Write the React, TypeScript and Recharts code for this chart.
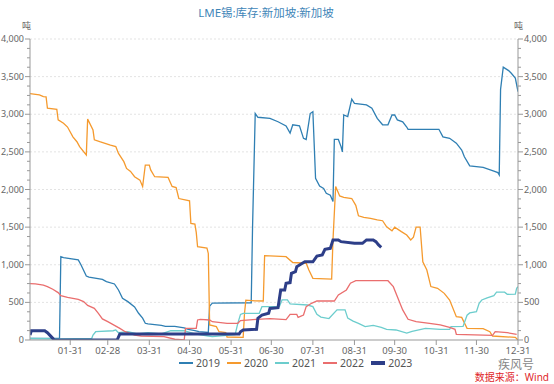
import React from "react";
import { LineChart, Line, XAxis, YAxis, ReferenceLine } from "recharts";

// x = day of year (0 = 01-01), y = tonnes
const TITLE = "LME锡:库存:新加坡:新加坡";
const UNIT = "吨";
const SOURCE = "数据来源：Wind";
const WATERMARK = "疾风号";

const TICK_DAYS = [30, 58, 89, 119, 150, 180, 211, 242, 272, 303, 333, 364];
const TICK_LABELS = ["01-31", "02-28", "03-31", "04-30", "05-31", "06-30", "07-31", "08-31", "09-30", "10-31", "11-30", "12-31"];
const Y_MAJOR = [0, 500, 1000, 1500, 2000, 2500, 3000, 3500, 4000];

const S2019: [number, number][] = [[0,20],[22,20],[23,1107],[25,1095],[36,1065],[38,1000],[42,850],[44,835],[54,805],[57,775],[63,745],[66,665],[69,555],[73,510],[78,440],[81,355],[84,290],[86,222],[88,215],[93,205],[98,195],[101,180],[108,180],[115,160],[118,140],[123,125],[126,110],[133,100],[134,450],[136,490],[165,495],[166,1500],[168,3010],[170,2960],[179,2945],[185,2900],[191,2845],[194,2750],[196,2860],[201,2845],[204,2680],[206,2665],[209,3010],[211,3035],[213,2150],[216,2045],[219,2015],[221,1950],[224,1925],[226,1840],[227,2665],[230,2665],[232,2570],[233,2500],[234,2990],[237,2970],[240,3200],[242,3145],[251,3125],[255,3080],[259,2945],[263,2860],[267,2860],[270,2990],[272,2990],[274,2925],[278,2900],[281,2830],[282,2800],[305,2800],[308,2700],[313,2680],[318,2615],[322,2525],[324,2435],[328,2315],[338,2295],[346,2245],[349,2225],[350,2195],[351,3330],[353,3625],[357,3580],[359,3545],[362,3480],[364,3300]];

const S2020: [number, number][] = [[0,3275],[7,3257],[10,3235],[12,3230],[13,3080],[20,3065],[21,2925],[25,2880],[28,2830],[32,2700],[35,2635],[37,2570],[42,2460],[43,2935],[47,2790],[48,2660],[52,2635],[60,2590],[64,2570],[66,2480],[70,2370],[72,2280],[75,2240],[78,2170],[82,2125],[84,2040],[86,2325],[89,2325],[90,2260],[93,2170],[103,2160],[106,2040],[109,2025],[111,1880],[119,1850],[120,1550],[123,1540],[124,1430],[125,1240],[132,1220],[133,1150],[134,200],[139,177],[141,110],[146,97],[147,40],[159,35],[160,355],[161,530],[168,520],[174,518],[175,1120],[191,1107],[196,1030],[206,1020],[208,930],[211,820],[225,810],[226,1330],[228,2040],[231,1915],[234,1895],[240,1880],[243,1790],[245,1650],[249,1630],[254,1615],[259,1595],[263,1585],[266,1505],[270,1450],[272,1500],[277,1440],[281,1395],[284,1330],[286,1365],[288,1500],[291,1500],[293,1040],[296,930],[299,710],[304,687],[309,620],[313,530],[318,310],[322,300],[326,155],[338,150],[343,110],[345,53],[362,35],[364,0]];

const S2021: [number, number][] = [[0,22],[22,15],[46,20],[47,66],[49,110],[62,123],[64,133],[66,97],[73,110],[80,80],[88,97],[98,80],[105,123],[115,123],[123,80],[133,53],[136,44],[153,70],[155,222],[157,340],[159,355],[171,355],[173,443],[186,443],[188,532],[192,532],[194,480],[207,465],[211,443],[214,340],[217,305],[223,285],[229,400],[235,400],[237,290],[241,250],[245,222],[250,177],[256,195],[262,168],[266,142],[273,133],[281,92],[285,115],[295,155],[306,142],[313,140],[314,177],[323,180],[326,330],[328,360],[333,376],[335,488],[337,532],[341,560],[346,590],[348,635],[354,635],[356,607],[362,610],[363,687],[364,709]];

const S2022: [number, number][] = [[0,750],[4,745],[10,730],[13,710],[17,675],[21,630],[23,590],[28,565],[36,540],[40,510],[43,460],[48,420],[51,355],[54,280],[58,245],[63,195],[67,155],[71,110],[78,66],[83,53],[100,44],[108,10],[115,0],[116,155],[124,155],[125,266],[127,275],[134,266],[136,243],[147,222],[155,222],[157,257],[169,275],[179,285],[191,270],[194,340],[199,340],[200,300],[204,332],[206,443],[210,488],[214,518],[227,518],[230,598],[236,665],[239,754],[243,788],[267,788],[271,709],[275,532],[278,400],[282,275],[288,243],[298,222],[306,200],[313,168],[317,142],[318,76],[345,62],[347,110],[356,97],[363,76]];

const S2023: [number, number][] = [[0,66],[1,123],[11,123],[13,97],[17,22],[18,0],[65,0],[67,80],[156,80],[157,110],[159,133],[169,142],[170,290],[173,332],[178,355],[179,420],[185,430],[187,665],[190,665],[191,754],[194,763],[195,886],[198,908],[199,975],[201,997],[205,1040],[211,1040],[214,1116],[218,1130],[220,1205],[224,1218],[226,1330],[230,1330],[232,1307],[242,1285],[248,1285],[251,1330],[256,1330],[258,1307],[260,1263],[262,1232]];

const SERIES = [
  { name: "2019", data: S2019, color: "#2f7fb3", width: 1.3 },
  { name: "2020", data: S2020, color: "#f59a2e", width: 1.3 },
  { name: "2021", data: S2021, color: "#6ccdcd", width: 1.3 },
  { name: "2022", data: S2022, color: "#ea6e6e", width: 1.3 },
  { name: "2023", data: S2023, color: "#2d3e88", width: 3 },
];

const Y_ALL: number[] = [];
for (let v = 0; v <= 4000; v += 125) Y_ALL.push(v);

const FONT = "'Noto Sans', 'Noto Sans CJK SC', sans-serif";
const fmt = (v: number) => v.toLocaleString("en-US");

const makeTick = (side: "left" | "right") => (props: any) => {
  const { x, y, payload } = props;
  const v = payload.value as number;
  const major = v % 500 === 0;
  const dir = side === "left" ? -1 : 1;
  const len = major ? 5 : 3;
  return (
    <g>
      <line x1={x} x2={x + dir * len} y1={y} y2={y} stroke="#999" strokeWidth={1} />
      {major && (
        <text x={x + dir * 6} y={y} dy={3} textAnchor={side === "left" ? "end" : "start"} fontSize={9} fill="#666" fontFamily={FONT}>
          {fmt(v)}
        </text>
      )}
    </g>
  );
};

export default function App() {
  return (
    <div style={{ position: "absolute", left: 0, top: 0, width: 554, height: 384, background: "#fff", fontFamily: FONT }}>
      <div style={{ position: "absolute", left: 0, width: 532, top: 4, textAlign: "center", fontSize: 11.5, color: "#3f86b8" }}>{TITLE}</div>
      <div style={{ position: "absolute", left: 22, top: 19, fontSize: 9, color: "#666" }}>{UNIT}</div>
      <div style={{ position: "absolute", left: 514, top: 19, fontSize: 9, color: "#666" }}>{UNIT}</div>
      <LineChart width={554} height={384} margin={{ top: 39, right: 0, bottom: 24, left: 0 }}>
        <XAxis
          dataKey="d"
          type="number"
          domain={[0, 364]}
          ticks={TICK_DAYS}
          interval={0}
          tickFormatter={(d: number) => TICK_LABELS[TICK_DAYS.indexOf(d)] ?? ""}
          stroke="#999"
          tick={{ fontSize: 9.5, fill: "#666", fontFamily: FONT }}
          tickSize={5}
          height={20}
          allowDataOverflow
        />
        <YAxis yAxisId="left" orientation="left" width={30} domain={[0, 4000]} ticks={Y_ALL} interval={0} stroke="#999" tickLine={false} tickSize={0} tickMargin={0} tick={makeTick("left")} allowDataOverflow />
        <YAxis yAxisId="right" orientation="right" width={36} domain={[0, 4000]} ticks={Y_ALL} interval={0} stroke="#999" tickLine={false} tickSize={0} tickMargin={0} tick={makeTick("right")} allowDataOverflow />
        {Y_MAJOR.filter((v) => v > 0).map((v) => (
          <ReferenceLine key={v} yAxisId="left" y={v} stroke="#e3e3e3" strokeDasharray="2 2" />
        ))}
        {SERIES.map((s) => (
          <Line
            key={s.name}
            yAxisId="left"
            data={s.data.map(([d, v]) => ({ d, v }))}
            dataKey="v"
            name={s.name}
            type="linear"
            stroke={s.color}
            strokeWidth={s.width}
            dot={false}
            activeDot={false}
            isAnimationActive={false}
          />
        ))}
      </LineChart>
      <div style={{ position: "absolute", left: 179, top: 356, display: "flex", alignItems: "center", fontSize: 10.5, color: "#555" }}>
        {SERIES.map((s) => (
          <div key={s.name} style={{ display: "flex", alignItems: "center", marginRight: 7 }}>
            <svg width={14} height={10}>
              <line x1={0} x2={14} y1={5} y2={5} stroke={s.color} strokeWidth={s.width > 2 ? 4 : 2} />
            </svg>
            <span style={{ marginLeft: 3 }}>{s.name}</span>
          </div>
        ))}
      </div>
      <div style={{ position: "absolute", left: 498, top: 358, fontSize: 12, lineHeight: "14px", color: "#888" }}>{WATERMARK}</div>
      <div style={{ position: "absolute", right: 5, top: 372, fontSize: 10, lineHeight: "11px", color: "#e0262a" }}>{SOURCE}</div>
    </div>
  );
}
